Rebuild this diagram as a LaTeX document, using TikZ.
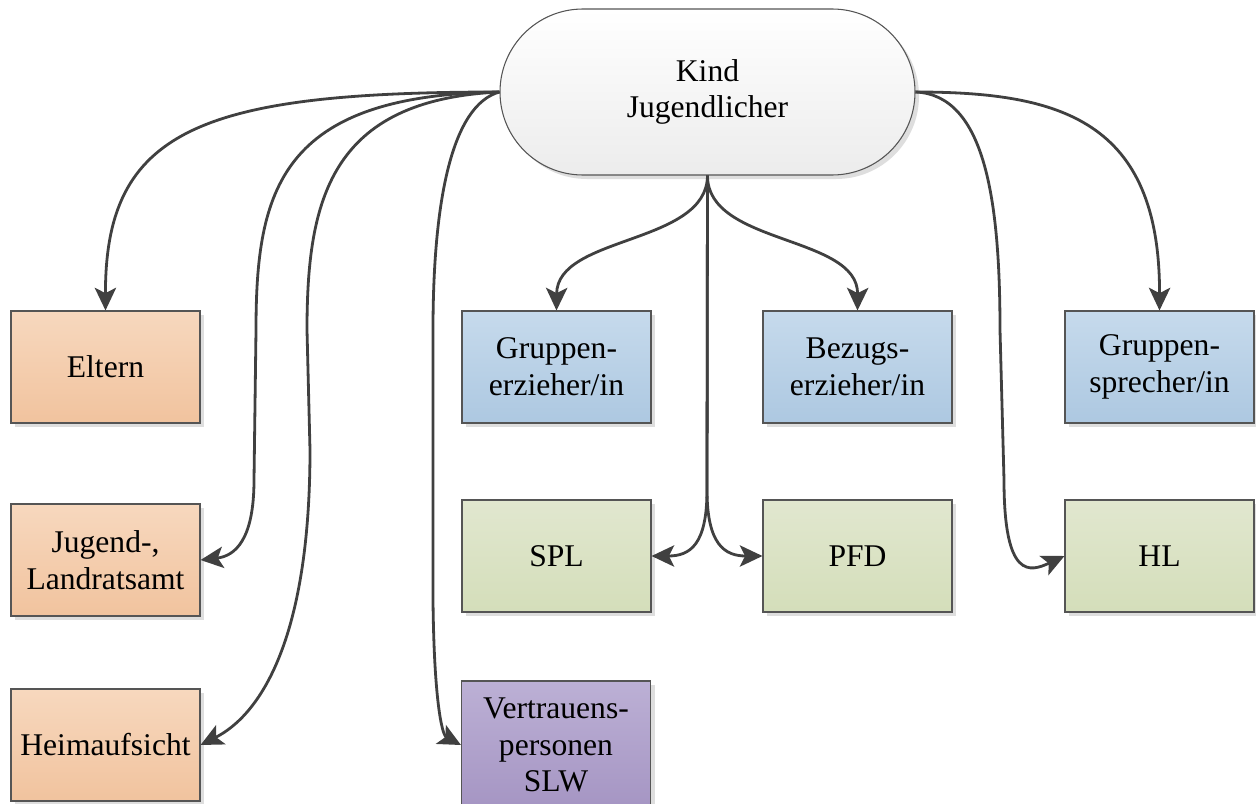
\documentclass[tikz,border=0pt]{standalone}
\usepackage{xcolor}
\usepackage{fontspec}
\setmainfont{Liberation Serif}
\usepackage{tikz}
\usetikzlibrary{arrows.meta,shadows}

\definecolor{connline}{HTML}{404040}
\definecolor{boxline}{HTML}{555555}
\definecolor{orTop}{HTML}{F7D8BE}
\definecolor{orBot}{HTML}{F1C39E}
\definecolor{blTop}{HTML}{C6DAEC}
\definecolor{blBot}{HTML}{ADC8E1}
\definecolor{grTop}{HTML}{E1E7CF}
\definecolor{grBot}{HTML}{D4DEBA}
\definecolor{puTop}{HTML}{BCB0D5}
\definecolor{puBot}{HTML}{A595C3}
\definecolor{kindBot}{HTML}{ECECEC}

\tikzset{
  box/.style={draw=boxline, line width=0.8pt, minimum width=141.75pt, minimum height=84pt,
    inner sep=0pt, align=center, font=\fontsize{23.7}{27.5}\selectfont,
    drop shadow={shadow xshift=3pt, shadow yshift=-3pt, fill=black!13, opacity=1}},
  orbox/.style={box, top color=orTop, bottom color=orBot},
  blbox/.style={box, top color=blTop, bottom color=blBot},
  grbox/.style={box, top color=grTop, bottom color=grBot},
  pubox/.style={box, top color=puTop, bottom color=puBot},
  conn/.style={draw=connline, line width=2.1pt, -{Stealth[length=17pt, width=16pt, inset=4pt]}}
}

\begin{document}
\begin{tikzpicture}[x=0.75pt,y=0.75pt,yscale=-1,xscale=1]
\useasboundingbox (0,0) rectangle (1256,803);

%Shape: Pill
\node [box, top color=white, bottom color=kindBot, minimum width=311.25pt, minimum height=124.5pt, rounded corners=62.2pt] (kind) at (707.5,92) {Kind\\Jugendlicher};

% left column
\node [orbox] (eltern) at (105.5,367) {Eltern};
\node [orbox] (jugendamt) at (105.5,560) {Jugend-,\\Landratsamt};
\node [orbox] (heimaufsicht) at (105.5,745) {Heimaufsicht};

% middle columns
\node [blbox] (gruppenerz) at (556.5,367) {Gruppen-\\erzieher/in};
\node [blbox] (bezugserz) at (857.5,367) {Bezugs-\\erzieher/in};
\node [grbox] (spl) at (556.5,556) {SPL};
\node [grbox] (pfd) at (857.5,556) {PFD};
\node [pubox, minimum height=96pt] (vertrauen) at (556,745) {Vertrauens-\\personen\\SLW};

% right column
\node [blbox] (gruppenspr) at (1159.5,367) {Gruppen-\\sprecher/in};
\node [grbox] (hl) at (1159.5,556) {HL};

%Curves from the left side
\draw [conn] (kind.west) .. controls (200,92) and (105,130) .. (eltern.north);
\draw [conn] (kind.west) .. controls (280,95) and (256,190) .. (256,330) -- (254,480) .. controls (254,540) and (235,556) .. (jugendamt.east);
\draw [conn] (kind.west) .. controls (330,100) and (307,200) .. (307,330) -- (310,450) .. controls (310,640) and (260,715) .. (heimaufsicht.east);
\draw [conn] (kind.west) .. controls (452,105) and (433,200) .. (433,330) -- (433,600) .. controls (434,700) and (442,735) .. (vertrauen.west);

%Curves from the bottom
\draw [conn] (kind.south) .. controls (707,245) and (557,235) .. (gruppenerz.north);
\draw [conn] (kind.south) .. controls (707,245) and (858,235) .. (bezugserz.north);
\draw [conn] (kind.south) -- (707,490) .. controls (707,545) and (690,556) .. (spl.east);
\draw [conn] (kind.south) -- (707,490) .. controls (707,545) and (725,556) .. (pfd.west);

%Curves from the right side
\draw [conn] (kind.east) .. controls (1060,92) and (1160,120) .. (gruppenspr.north);
\draw [conn] (kind.east) .. controls (985,95) and (1000,200) .. (1000,330) -- (1004,480) .. controls (1004,580) and (1030,572) .. (hl.west);

\end{tikzpicture}
\end{document}
